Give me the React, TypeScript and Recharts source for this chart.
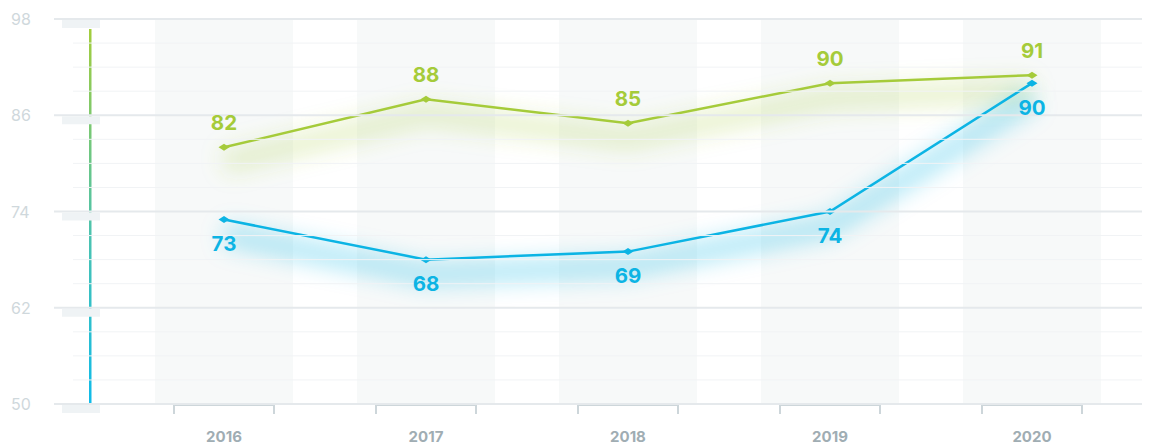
import { ComposedChart, Line, Bar, XAxis, YAxis, LabelList } from "recharts";

const years = ["2016", "2017", "2018", "2019", "2020"];
const greenValues = [82, 88, 85, 90, 91];
const blueValues = [73, 68, 69, 74, 90];
const yTicks = [50, 53, 56, 59, 62, 65, 68, 71, 74, 77, 80, 83, 86, 89, 92, 95, 98];
const majorTicks = [50, 62, 74, 86, 98];

const GREEN = "#a5cb3a";
const BLUE = "#0cb4e4";
const FONT = "Inter, 'Noto Sans', sans-serif";

const data = years.map((year, i) => ({
  year,
  green: greenValues[i],
  blue: blueValues[i],
}));

function YTick(props: any) {
  const { y, payload } = props;
  const v = payload.value as number;
  const isMajor = majorTicks.includes(v);
  if (!isMajor) {
    return <line x1={73} x2={1142} y1={y} y2={y} stroke="#f1f3f5" strokeWidth={1} />;
  }
  return (
    <g>
      {v === 50 && (
        <rect x={89} y={y - 375} width={2.5} height={375} fill="url(#axisGrad)" />
      )}
      <line x1={54} x2={1142} y1={y} y2={y} stroke="#e5e9ec" strokeWidth={2} />
      <rect x={62} y={y + 1} width={38} height={8} fill="#eff3f5" />
      <text
        x={11}
        y={y}
        fontSize={16}
        fill="#cfd8dc"
        fontFamily={FONT}
        dominantBaseline="central"
        textAnchor="start"
      >
        {v}
      </text>
    </g>
  );
}

function XTick(props: any) {
  const { x, y, payload } = props;
  return (
    <g>
      <path
        d={`M${x - 50},${y + 10} L${x - 50},${y + 1} L${x + 50},${y + 1} L${x + 50},${y + 10}`}
        stroke="#cdd6da"
        strokeWidth={2}
        fill="none"
      />
      <text
        x={x}
        y={y + 32}
        fontSize={15}
        fontWeight={700}
        fill="#a0adb3"
        fontFamily={FONT}
        textAnchor="middle"
        dominantBaseline="central"
      >
        {payload.value}
      </text>
    </g>
  );
}

function Diamond(props: any) {
  const { cx, cy, stroke } = props;
  if (cx == null || cy == null) return null;
  return (
    <polygon
      points={`${cx - 5.5},${cy} ${cx},${cy - 3.5} ${cx + 5.5},${cy} ${cx},${cy + 3.5}`}
      fill={stroke}
    />
  );
}

function makeLabel(color: string, dy: number) {
  return (props: any) => {
    const { x, y, value } = props;
    return (
      <text
        x={x}
        y={y + dy}
        fill={color}
        fontSize={20.5}
        fontWeight={700}
        fontFamily={FONT}
        textAnchor="middle"
        dominantBaseline="central"
      >
        {value}
      </text>
    );
  };
}

export default function App() {
  return (
    <div style={{ position: "absolute", left: 0, top: 0, width: 1152, height: 446, background: "#fff" }}>
      <ComposedChart
        width={1152}
        height={446}
        data={data}
        margin={{ top: 19, right: 19, bottom: 0, left: 0 }}
      >
        <defs>
          <linearGradient id="axisGrad" x1="0" y1="0" x2="0" y2="1">
            <stop offset="0%" stopColor="#a3cd3c" />
            <stop offset="55%" stopColor="#4cc3b0" />
            <stop offset="100%" stopColor="#0fbbea" />
          </linearGradient>
          <filter id="glow" filterUnits="userSpaceOnUse" x={0} y={0} width={1152} height={446}>
            <feGaussianBlur stdDeviation={11} />
            <feOffset dy={15} />
          </filter>
        </defs>
        <XAxis
          dataKey="year"
          height={42}
          axisLine={false}
          tickLine={false}
          tickSize={0}
          tickMargin={0}
          tick={<XTick />}
          interval={0}
        />
        <YAxis
          width={123}
          domain={[50, 98]}
          ticks={yTicks}
          interval={0}
          axisLine={false}
          tickLine={false}
          tick={<YTick />}
          allowDataOverflow
        />
        <Bar
          dataKey="green"
          barSize={138}
          fill="transparent"
          background={{ fill: "#f7f9f9" }}
          isAnimationActive={false}
        />
        <Line
          dataKey="green"
          stroke={GREEN}
          strokeWidth={22}
          strokeOpacity={0.26}
          dot={false}
          activeDot={false}
          filter="url(#glow)"
          isAnimationActive={false}
        />
        <Line
          dataKey="blue"
          stroke={BLUE}
          strokeWidth={22}
          strokeOpacity={0.3}
          dot={false}
          activeDot={false}
          filter="url(#glow)"
          isAnimationActive={false}
        />
        <Line
          dataKey="green"
          stroke={GREEN}
          strokeWidth={2.5}
          dot={<Diamond />}
          activeDot={false}
          isAnimationActive={false}
        >
          <LabelList dataKey="green" content={makeLabel(GREEN, -25)} />
        </Line>
        <Line
          dataKey="blue"
          stroke={BLUE}
          strokeWidth={2.5}
          dot={<Diamond />}
          activeDot={false}
          isAnimationActive={false}
        >
          <LabelList dataKey="blue" content={makeLabel(BLUE, 24)} />
        </Line>
      </ComposedChart>
    </div>
  );
}
